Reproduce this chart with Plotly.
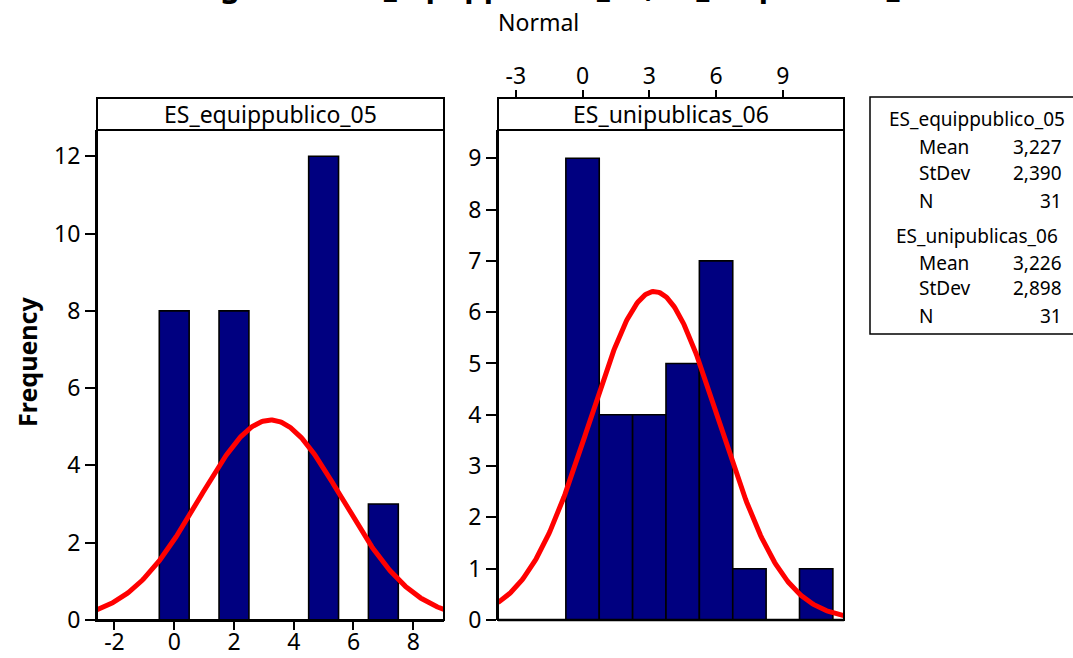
import numpy as np
import plotly.graph_objects as go

W, H = 1073, 658

# ---- data ----
names = ["ES_equippublico_05", "ES_unipublicas_06"]
left_centers = [0, 1, 2, 3, 4, 5, 6, 7]
left_counts = [8, 0, 8, 0, 0, 12, 0, 3]
left_binw = 1.0
right_centers = [0, 1.5, 3, 4.5, 6, 7.5, 9, 10.5]
right_counts = [9, 4, 4, 5, 7, 1, 0, 1]
right_binw = 1.5
means = [3.227, 3.226]
stdevs = [2.390, 2.898]
ns = [31, 31]
left_xticks = [-2, 0, 2, 4, 6, 8]
left_yticks = [0, 2, 4, 6, 8, 10, 12]
right_xticks = [-3, 0, 3, 6, 9]
right_yticks = [0, 1, 2, 3, 4, 5, 6, 7, 8, 9]

FONT = "Noto Sans"
NAVY = "#000080"


def px(x):
    return x / W


def py(y):
    return 1 - y / H


L1, R1 = 97, 444
L2, R2 = 498, 844
STRIP_TOP, PLOT_TOP, PLOT_BOT = 98, 130, 620

xr1 = [-2.585, 9.03]
xr2 = [-3.8, 11.75]
yr1 = [0, 12.68]
yr2 = [0, 9.55]

fig = go.Figure()


def bars(centers, counts, w, xa, ya):
    lc = ["black" if c > 0 else "#b0b0b0" for c in counts]
    fig.add_trace(go.Bar(
        x=centers, y=counts, width=[w] * len(centers),
        marker=dict(color=NAVY, line=dict(color=lc, width=1.6)),
        xaxis=xa, yaxis=ya, showlegend=False, hoverinfo="skip",
    ))


def normal_curve(mu, sd, n, w, xr, xa, ya):
    xs = np.linspace(xr[0], xr[1], 300)
    ys = n * w / (sd * np.sqrt(2 * np.pi)) * np.exp(-0.5 * ((xs - mu) / sd) ** 2)
    fig.add_trace(go.Scatter(
        x=xs, y=ys, mode="lines", line=dict(color="#ff0000", width=5),
        xaxis=xa, yaxis=ya, showlegend=False, hoverinfo="skip",
    ))


bars(left_centers, left_counts, left_binw, "x", "y")
normal_curve(means[0], stdevs[0], ns[0], left_binw, xr1, "x", "y")
bars(right_centers, right_counts, right_binw, "x2", "y2")
normal_curve(means[1], stdevs[1], ns[1], right_binw, xr2, "x2", "y2")

tickfont = dict(family=FONT, size=23, color="black")
ydom = [py(PLOT_BOT), py(PLOT_TOP)]
common = dict(ticks="outside", tickwidth=1.5, tickcolor="black", showgrid=False,
              zeroline=False, automargin=False, tickfont=tickfont)

fig.update_layout(
    width=W, height=H,
    margin=dict(l=0, r=0, t=0, b=0, autoexpand=False),
    paper_bgcolor="white", plot_bgcolor="white",
    font=dict(family=FONT, color="black"),
    xaxis=dict(domain=[px(L1), px(R1)], range=xr1, tickvals=left_xticks,
               ticktext=[str(v) for v in left_xticks], ticklabelstandoff=-8,
               ticklen=8, showline=True, linecolor="black", linewidth=2,
               anchor="y", **common),
    yaxis=dict(domain=ydom, range=yr1, tickvals=left_yticks,
               ticktext=[str(v) for v in left_yticks],
               ticklen=10, showline=True, linecolor="black", linewidth=2,
               anchor="x", **common),
    xaxis2=dict(domain=[px(L2), px(R2)], range=xr2, tickvals=right_xticks,
                ticktext=[str(v) for v in right_xticks], ticklabelstandoff=-3,
                side="top", anchor="free", position=py(STRIP_TOP),
                ticklen=8, showline=False, **common),
    yaxis2=dict(domain=ydom, range=yr2, tickvals=right_yticks,
                ticktext=[str(v) for v in right_yticks],
                ticklen=10, showline=True, linecolor="black", linewidth=2,
                anchor="x2", **common),
)

shapes = []
for L, R in [(L1, R1), (L2, R2)]:
    shapes.append(dict(type="rect", xref="paper", yref="paper",
                       x0=px(L), x1=px(R), y0=py(PLOT_BOT), y1=py(STRIP_TOP),
                       line=dict(color="black", width=2), fillcolor="rgba(0,0,0,0)"))
    shapes.append(dict(type="line", xref="paper", yref="paper",
                       x0=px(L), x1=px(R), y0=py(PLOT_TOP), y1=py(PLOT_TOP),
                       line=dict(color="black", width=2)))
shapes.append(dict(type="line", xref="paper", yref="paper",
                   x0=px(L2), x1=px(R2), y0=py(PLOT_BOT), y1=py(PLOT_BOT),
                   line=dict(color="black", width=2.5)))
shapes.append(dict(type="rect", xref="paper", yref="paper",
                   x0=px(870), x1=px(1085), y0=py(334), y1=py(97),
                   line=dict(color="black", width=1.5), fillcolor="white"))
fig.update_layout(shapes=shapes)

ann = []
ann.append(dict(text="<b>Histogram of ES_equippublico_05; ES_unipublicas_06</b>",
                xref="paper", yref="paper", x=px(537), y=py(8.5), yanchor="bottom",
                xanchor="center", showarrow=False,
                font=dict(family=FONT, size=31, color="black")))
ann.append(dict(text="Normal", xref="paper", yref="paper", x=px(538), y=py(22),
                xanchor="center", yanchor="middle", showarrow=False,
                font=dict(family=FONT, size=23, color="black")))
for (L, R), nm in zip([(L1, R1), (L2, R2)], names):
    ann.append(dict(text=nm, xref="paper", yref="paper", x=px((L + R) / 2),
                    y=py((STRIP_TOP + PLOT_TOP) / 2), xanchor="center",
                    yanchor="middle", showarrow=False,
                    font=dict(family=FONT, size=23, color="black")))
ann.append(dict(text="<b>Frequency</b>", xref="paper", yref="paper", x=px(27),
                y=py(362), textangle=-90, xanchor="center", yanchor="middle",
                showarrow=False, font=dict(family=FONT, size=25, color="black")))
lf = dict(family=FONT, size=19, color="black")
for i, ytop in enumerate([119, 236]):
    ann.append(dict(text=names[i], xref="paper", yref="paper", x=px(977),
                    y=py(ytop), xanchor="center", yanchor="middle",
                    showarrow=False, font=lf))
    labels = ["Mean", "StDev", "N"]
    vals = [f"{means[i]:.3f}".replace(".", ","), f"{stdevs[i]:.3f}".replace(".", ","),
            str(ns[i])]
    offs = [28, 54, 82] if i == 0 else [27, 52, 80]
    for lab, v, o in zip(labels, vals, offs):
        ann.append(dict(text=lab, xref="paper", yref="paper", x=px(917),
                        y=py(ytop + o), xanchor="left", yanchor="middle",
                        showarrow=False, font=lf))
        ann.append(dict(text=v, xref="paper", yref="paper", x=px(1064),
                        y=py(ytop + o), xanchor="right", yanchor="middle",
                        showarrow=False, font=lf))
fig.update_layout(annotations=ann)

fig.write_html(
    "out.html",
    config={"displayModeBar": False},
    post_script="document.body.style.margin='0';document.body.style.overflow='hidden';",
)
